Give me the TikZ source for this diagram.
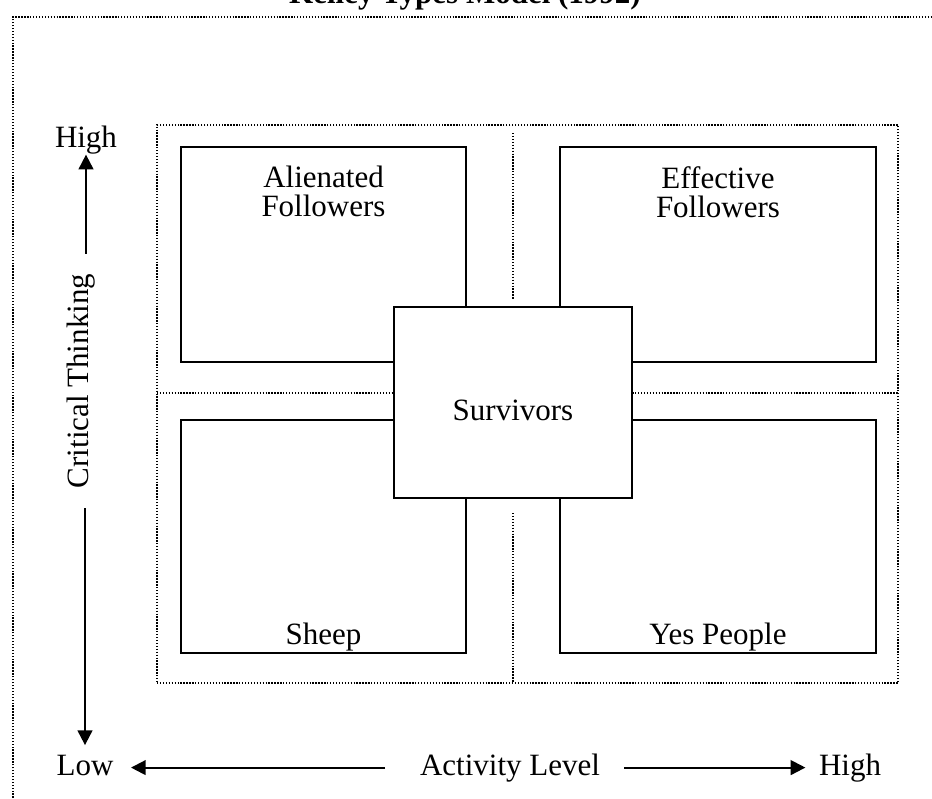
\documentclass[tikz,border=0pt]{standalone}
\usepackage{fontspec}
\setmainfont{Liberation Serif}
\usetikzlibrary{fit,arrows.meta}
\begin{document}
\begin{tikzpicture}[x=0.75pt,y=-0.75pt,
  box/.style={draw, line width=1.6pt, inner sep=0pt, fill=white},
  frame/.style={line width=1pt, dash pattern=on 1pt off 1.2pt},
  lbl/.style={font=\fontsize{23.25}{21.75}\selectfont, inner sep=0pt, align=center},
  axis/.style={line width=1.5pt, -{Triangle[length=11pt,width=11pt]}},
]
\useasboundingbox (0,0) rectangle (932,799);
\clip (0,0) rectangle (932,799);

% heading, running off the top edge
\node[font=\bfseries\fontsize{23.25}{28}\selectfont, inner sep=0pt, anchor=base] (title) at (465,4) {Kelley Types Model (1992)};

% outer dotted frame
\draw[frame] (13,830) -- (13,17) -- (950,17);

% quadrant grid
\node[frame, draw, inner sep=0pt, fit={(157,125) (898,683)}] (grid) {};
\draw[frame] (513,133) -- (513,300);
\draw[frame] (513,513) -- (513,683);
\draw[frame] (157,393) -- (898,393);

% follower boxes
\node[box, fit={(181,147) (466,362)}] (alien) {};
\node[box, fit={(560,147) (876,362)}] (effect) {};
\node[box, fit={(181,420) (466,653)}] (sheep) {};
\node[box, fit={(560,420) (876,653)}] (yes) {};
\node[box, fit={(394,307) (632,498)}] (surv) {};

\node[lbl, anchor=north] (alienT) at (323.5,166) {Alienated\\Followers};
\node[lbl, anchor=north] (effectT) at (718,166) {Effective\\Followers};
\node[lbl, anchor=base] (sheepT) at (323.5,644) {Sheep};
\node[lbl, anchor=base] (yesT) at (718,644) {Yes People};
\node[lbl, anchor=base] (survT) at (513,420) {Survivors};

% vertical axis
\node[lbl, anchor=base] (hiV) at (86,147) {High};
\node[lbl, rotate=90, anchor=base] (crit) at (88,381) {Critical Thinking};
\node[lbl, anchor=base] (low) at (85,775) {Low};
\draw[axis, shorten <=15pt, shorten >=0.5pt] (hiV.south |- crit.east) -- (hiV.south);
\draw[axis, shorten <=15pt, shorten >=7pt] (low.north |- crit.west) -- (low.north);

% horizontal axis
\node[lbl, anchor=base] (act) at (510,775) {Activity Level};
\node[lbl, anchor=base] (hiH) at (850,775) {High};
\draw[axis, shorten <=26pt, shorten >=13pt] (act.west) -- (low.east |- act.west);
\draw[axis, shorten <=18pt, shorten >=10pt] (act.east) -- (hiH.west |- act.east);
\end{tikzpicture}
\end{document}
